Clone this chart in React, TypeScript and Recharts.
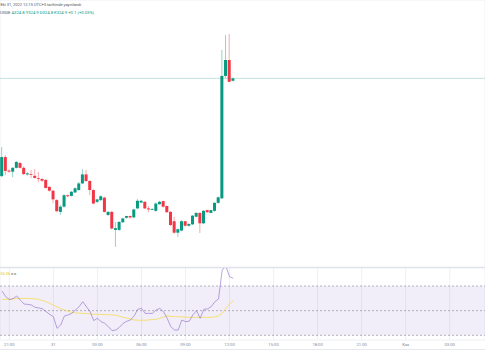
import {
  ComposedChart,
  Bar,
  Line,
  XAxis,
  YAxis,
  CartesianGrid,
  ReferenceLine,
  ReferenceArea,
} from 'recharts'

const UP = '#089981'
const DOWN = '#f23645'
const GRID = '#eef0f4'

// 15 minute candles, index 0 = 20:30
const opens = [
  322.09, 322.64, 322.25, 322.22, 322.33, 322.47, 322.33, 322.14, 322.15, 322.1,
  322.03, 322.01, 321.98, 321.78, 321.67, 321.4, 321.06, 321.21, 321.54, 321.52,
  321.62, 321.69, 321.88, 322.14, 321.95, 321.69, 321.35, 321.4, 321.47, 320.97,
  321.06, 320.54, 320.54, 320.76, 320.89, 320.94, 320.9, 321.16, 321.33, 321.35,
  321.16, 321.13, 321.09, 321.28, 321.37, 321.23, 321.06, 320.79, 320.46, 320.52,
  320.79, 320.66, 320.7, 320.92, 321.03, 320.73, 321.11, 321.03, 321.09, 321.32,
  321.45, 324.98, 325.44, 324.84,
]
const closes = [
  322.64, 322.24, 322.22, 322.33, 322.5, 322.33, 322.15, 322.17, 322.13, 322.04,
  322.01, 321.96, 321.75, 321.67, 321.42, 321.08, 321.21, 321.54, 321.51, 321.64,
  321.74, 321.88, 322.14, 321.95, 321.69, 321.3, 321.42, 321.51, 321.06, 321.06,
  320.58, 320.59, 320.77, 320.87, 320.94, 320.9, 321.13, 321.38, 321.38, 321.16,
  321.13, 321.14, 321.3, 321.35, 321.21, 321.05, 320.68, 320.46, 320.56, 320.79,
  320.66, 320.71, 320.95, 321.03, 320.73, 321.09, 321.05, 321.11, 321.32, 321.48,
  324.98, 325.44, 324.81, 324.91,
]
const highs = [
  322.93, 322.7, 322.29, 322.35, 322.53, 322.5, 322.37, 322.21, 322.27, 322.29,
  322.21, 322.03, 322.01, 321.8, 321.69, 321.43, 321.26, 321.57, 321.56, 321.66,
  321.77, 321.92, 322.29, 322.27, 321.98, 321.71, 321.44, 321.54, 321.5, 321.08,
  321.09, 320.77, 320.79, 320.89, 320.95, 320.95, 321.15, 321.43, 321.4, 321.37,
  321.23, 321.17, 321.33, 321.38, 321.38, 321.24, 321.08, 320.92, 320.58, 320.82,
  320.8, 320.74, 320.97, 321.05, 321.05, 321.11, 321.12, 321.12, 321.34, 321.5,
  325.73, 326.16, 326.19, 324.93,
]
const lows = [
  322.07, 322.12, 322.19, 322.06, 322.31, 322.31, 322.12, 322.1, 322.03, 322.02,
  321.92, 321.92, 321.73, 321.64, 321.31, 321.05, 320.97, 321.18, 321.48, 321.5,
  321.6, 321.67, 321.86, 321.92, 321.54, 321.28, 321.31, 321.37, 321.04, 320.94,
  320.55, 320.05, 320.51, 320.74, 320.86, 320.86, 320.88, 321.14, 321.31, 321.14,
  321.05, 321.11, 321.06, 321.27, 321.18, 321.03, 320.65, 320.43, 320.34, 320.5,
  320.63, 320.63, 320.68, 320.9, 320.45, 320.71, 321.03, 321.02, 321.06, 321.3,
  321.43, 324.92, 324.8, 324.82,
]

const rsi = [
  66, 61.4, 59, 59.7, 61.9, 58.6, 55.4, 55.1, 54.6, 52.7,
  52.2, 51.6, 49.2, 47, 45.1, 35.7, 38.4, 45.7, 46.5, 47.8,
  50.5, 53.2, 57.3, 53.2, 49.2, 41.9, 43.8, 41.1, 39.7, 37,
  33.8, 34.3, 36.5, 39.7, 41.4, 42.4, 45.7, 51.1, 51.9, 47.8,
  47.8, 47.8, 50.5, 51.9, 49.2, 43.8, 37, 34.3, 34.3, 42.4,
  41.1, 41.4, 46.5, 50, 43.8, 51.1, 51.4, 53.2, 57.3, 59.5,
  83, 86, 77.6, 76.2,
]
const rsiMa = [
  59.2, 59.2, 59.3, 59.5, 59.8, 60, 60, 59.9, 59.7, 59.5,
  59.2, 58.3, 57.3, 56, 54.5, 53.2, 51.5, 50.5, 49.6, 48.6,
  48.2, 48, 47.8, 47.7, 47.4, 47.1, 47, 46.9, 46.8, 46.7,
  46.5, 46.2, 45.5, 44.6, 44, 43.2, 42.4, 42.3, 42.2, 42.2,
  42.5, 42.8, 43, 43.8, 44.8, 45.7, 45.4, 45.1, 45.1, 44.9,
  44.7, 44.6, 44.6, 44.6, 44.6, 44.6, 44.6, 44.6, 45, 45.7,
  47.8, 51.9, 55.4, 58.1,
]

const timeTicks = [2, 14, 26, 38, 50, 62, 74, 86, 98, 110, 122]
const timeLabels = ['21:00', '31', '03:00', '06:00', '09:00', '12:00', '15:00', '18:00', '21:00', 'Kas', '03:00']
const priceTicks = [320, 320.5, 321, 321.5, 322, 322.5, 323, 323.5, 324, 324.5, 325, 325.5, 326, 326.5, 327]
const rsiTicks = [40, 60, 80]
const rsiLevels = [30, 50, 70]

const xDomain = [-0.545, 131.61]
const priceDomain = [319.47, 327.17]
const rsiDomain = [26.2, 84.6]

const candles = opens.map((o, i) => ({ i, o, c: closes[i], h: highs[i], l: lows[i] }))
const rsiRows = rsi.map((v, i) => ({ i, rsi: v, ma: rsiMa[i] }))
const last = candles[candles.length - 1]

function Candle(props: any) {
  const { x, y, width, height, payload } = props
  if (!payload) return null
  const { o, c, h, l } = payload
  const top0 = Math.min(y, y + height)
  const hh = Math.abs(height)
  const k = h === l ? 0 : hh / (h - l)
  const color = c >= o ? UP : DOWN
  const bodyTop = top0 + (h - Math.max(o, c)) * k
  const bodyH = Math.max(0.8, Math.abs(o - c) * k)
  const cx = x + width / 2
  return (
    <g>
      <line x1={cx} x2={cx} y1={top0} y2={top0 + hh} stroke={color} strokeOpacity={0.55} strokeWidth={0.8} />
      <rect x={x} y={bodyTop} width={width} height={bodyH} fill={color} />
    </g>
  )
}

export default function App() {
  return (
    <div
      style={{
        position: 'absolute',
        left: 0,
        top: 0,
        width: 485,
        height: 360,
        overflow: 'hidden',
        background: '#fff',
        fontFamily: 'Roboto, sans-serif',
      }}
    >
      <div style={{ position: 'absolute', left: 0, top: 0 }}>
        <ComposedChart width={485} height={267} data={candles} margin={{ top: 0, right: 0, bottom: 0, left: 0 }}>
          <CartesianGrid stroke={GRID} strokeWidth={1} />
          <XAxis
            dataKey="i"
            type="number"
            domain={xDomain}
            allowDataOverflow
            ticks={timeTicks}
            height={0}
            tick={false}
            axisLine={false}
            tickLine={false}
          />
          <YAxis
            type="number"
            domain={priceDomain}
            allowDataOverflow
            ticks={priceTicks}
            width={0}
            tick={false}
            axisLine={false}
            tickLine={false}
          />
          <ReferenceLine y={last.c} stroke={UP} strokeOpacity={0.25} strokeWidth={1} />
          <Bar
            dataKey={(d: any) => [d.l, d.h]}
            barSize={3}
            shape={<Candle />}
            isAnimationActive={false}
          />
        </ComposedChart>
      </div>

      <div style={{ position: 'absolute', left: 0, top: 267, width: 485, height: 1, background: '#e0e3eb' }} />

      <div style={{ position: 'absolute', left: 0, top: 268 }}>
        <ComposedChart width={485} height={84} data={rsiRows} margin={{ top: 0, right: 0, bottom: 0, left: 0 }}>
          <CartesianGrid stroke={GRID} strokeWidth={1} />
          <XAxis
            dataKey="i"
            type="number"
            domain={xDomain}
            allowDataOverflow
            ticks={timeTicks}
            interval={0}
            height={12}
            axisLine={false}
            tickLine={false}
            tickSize={2}
            tickMargin={1}
            tick={{ fontSize: 4.2, fill: '#868993' }}
            tickFormatter={(v: number) => timeLabels[timeTicks.indexOf(v)] ?? ''}
          />
          <YAxis
            type="number"
            domain={rsiDomain}
            allowDataOverflow
            ticks={rsiTicks}
            width={0}
            tick={false}
            axisLine={false}
            tickLine={false}
          />
          <ReferenceArea y1={rsiLevels[0]} y2={rsiLevels[2]} fill="#7e57c2" fillOpacity={0.1} stroke="none" />
          {rsiLevels.map((lv) => (
            <ReferenceLine key={lv} y={lv} stroke="#787b86" strokeOpacity={0.55} strokeDasharray="2 2" />
          ))}
          <Line
            type="linear"
            dataKey="ma"
            stroke="#f5d842"
            strokeOpacity={0.8}
            strokeWidth={0.9}
            dot={false}
            isAnimationActive={false}
          />
          <Line
            type="linear"
            dataKey="rsi"
            stroke="#7e57c2"
            strokeOpacity={0.6}
            strokeWidth={0.9}
            dot={false}
            isAnimationActive={false}
          />
        </ComposedChart>
      </div>

      <div style={{ position: 'absolute', left: 0, top: 349, width: 485, height: 1, background: '#e6e8ee' }} />

      <svg width={485} height={360} style={{ position: 'absolute', left: 0, top: 0, pointerEvents: 'none' }}>
        <text x={0.5} y={5.8} fontSize={4} fill="#50535e" fontFamily="Roboto, sans-serif">
          Eki 31, 2022 12:15 UTC+3 tarihinde yayınlandı
        </text>
        <text x={0} y={14.2} fontSize={4.2} fontFamily="Roboto, sans-serif">
          <tspan fill="#50535e">USDE </tspan>
          <tspan fill={UP}>A324.8 Y324.9 D324.8 K324.9 +0.1 (+0.03%)</tspan>
        </text>
        <text x={0.5} y={274.6} fontSize={3.8} fontFamily="Roboto, sans-serif">
          <tspan fill="#e6c619">56.36</tspan>
          <tspan fill="#787b86"> ø ø</tspan>
        </text>
      </svg>
    </div>
  )
}
